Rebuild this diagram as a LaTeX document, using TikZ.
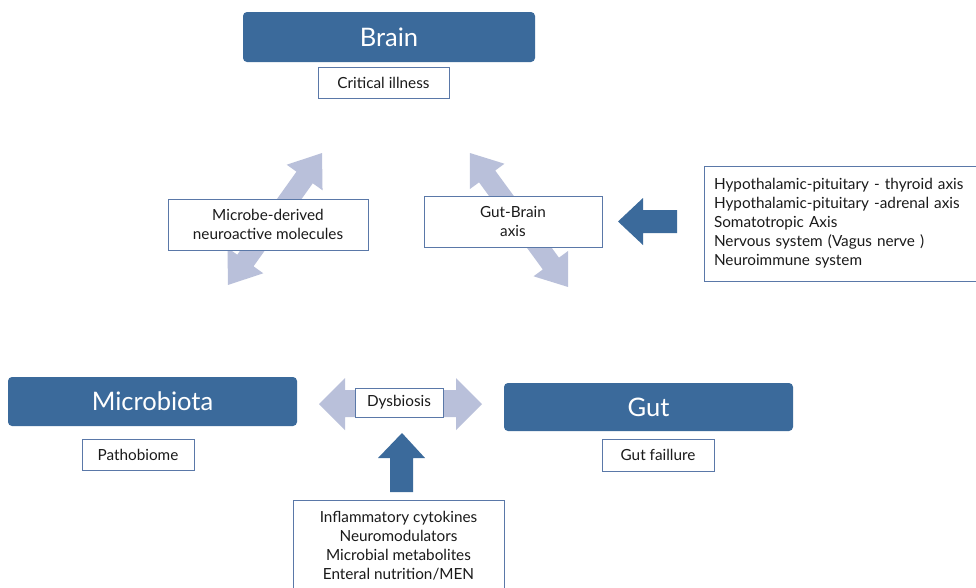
\documentclass[tikz,border=0pt]{standalone}
\usepackage{fontspec}
\setmainfont{Lato}
\definecolor{myblue}{HTML}{3B6A9B}
\definecolor{lightarrow}{HTML}{B9C0DA}
\definecolor{boxline}{HTML}{5A78A8}
\definecolor{textc}{HTML}{1A1A1A}
\tikzset{
  bluebox/.style={fill=myblue, rounded corners=4pt, text=white, inner sep=0pt,
    font=\fontsize{25.5}{30}\selectfont},
  whitebox/.style={draw=boxline, fill=white, line width=1pt, text=textc, inner sep=0pt,
    align=center, font=\fontsize{15.3}{19}\selectfont},
  lightshape/.style={fill=lightarrow, draw=none},
  blueshape/.style={fill=myblue, draw=none}
}
\begin{document}
\begin{tikzpicture}[x=1pt,y=-1pt]
\useasboundingbox (0,0) rectangle (976,587);
\clip (0,0) rectangle (976,587);
\fill[white] (0,0) rectangle (976,587);

% diagonal double arrows
\begin{scope}[shift={(275,219)}, rotate=54.5]
  \fill[lightshape] (-81,0) -- (-51,22) -- (-51,10) -- (51,10) -- (51,22) -- (81,0)
    -- (51,-22) -- (51,-10) -- (-51,-10) -- (-51,-22) -- cycle;
\end{scope}
\begin{scope}[shift={(519,220)}, rotate=-53.8]
  \fill[lightshape] (-83,0) -- (-54,21.5) -- (-54,10) -- (54,10) -- (54,21.5) -- (83,0)
    -- (54,-21.5) -- (54,-10) -- (-54,-10) -- (-54,-21.5) -- cycle;
\end{scope}

% horizontal double arrow
\fill[lightshape] (319,404) -- (345,378) -- (345,390) -- (456,390) -- (456,378) -- (482,404)
  -- (456,430) -- (456,417) -- (345,417) -- (345,430) -- cycle;

% blue block arrows
\fill[blueshape] (402,433) -- (425,458) -- (413,458) -- (413,492) -- (390,492) -- (390,458) -- (378,458) -- cycle;
\fill[blueshape] (618,221.5) -- (643,198) -- (643,210) -- (677,210) -- (677,233) -- (643,233) -- (643,245) -- cycle;

% main boxes
\node[bluebox, minimum width=292pt, minimum height=50pt] (brain) at (389,37) {Brain};
\node[bluebox, minimum width=289pt, minimum height=49pt] (micro) at (152.5,401.5) {Microbiota};
\node[bluebox, minimum width=289pt, minimum height=48pt] (gut) at (648.5,407) {Gut};

% label boxes
\node[whitebox, minimum width=131pt, minimum height=31pt] (crit) at (383.5,82.5) {Critical illness};
\node[whitebox, minimum width=112pt, minimum height=31pt] (patho) at (138,454.5) {Pathobiome};
\node[whitebox, minimum width=112pt, minimum height=32pt] (gutf) at (658,455) {Gut faillure};
\node[whitebox, minimum width=88pt, minimum height=29pt] (dys) at (399,402.5) {Dysbiosis};
\node[whitebox, minimum width=200pt, minimum height=51pt] (mdnm) at (268,224.5)
  {Microbe-derived\\neuroactive molecules};
\node[whitebox, minimum width=178pt, minimum height=51pt] (gba) at (513,221.5)
  {Gut-Brain\\axis};
\node[whitebox, align=left, text width=254pt, inner xsep=10pt, minimum height=115pt] (axes) at (841,223.5)
  {Hypothalamic-pituitary - thyroid axis\\
   Hypothalamic-pituitary -adrenal axis\\
   Somatotropic Axis\\
   Nervous system (Vagus nerve )\\
   Neuroimmune system};
\node[whitebox, minimum width=211pt, minimum height=91pt] (factors) at (398.5,545.5)
  {Inflammatory cytokines\\
   Neuromodulators\\
   Microbial metabolites\\
   Enteral nutrition/MEN};
\end{tikzpicture}
\end{document}
